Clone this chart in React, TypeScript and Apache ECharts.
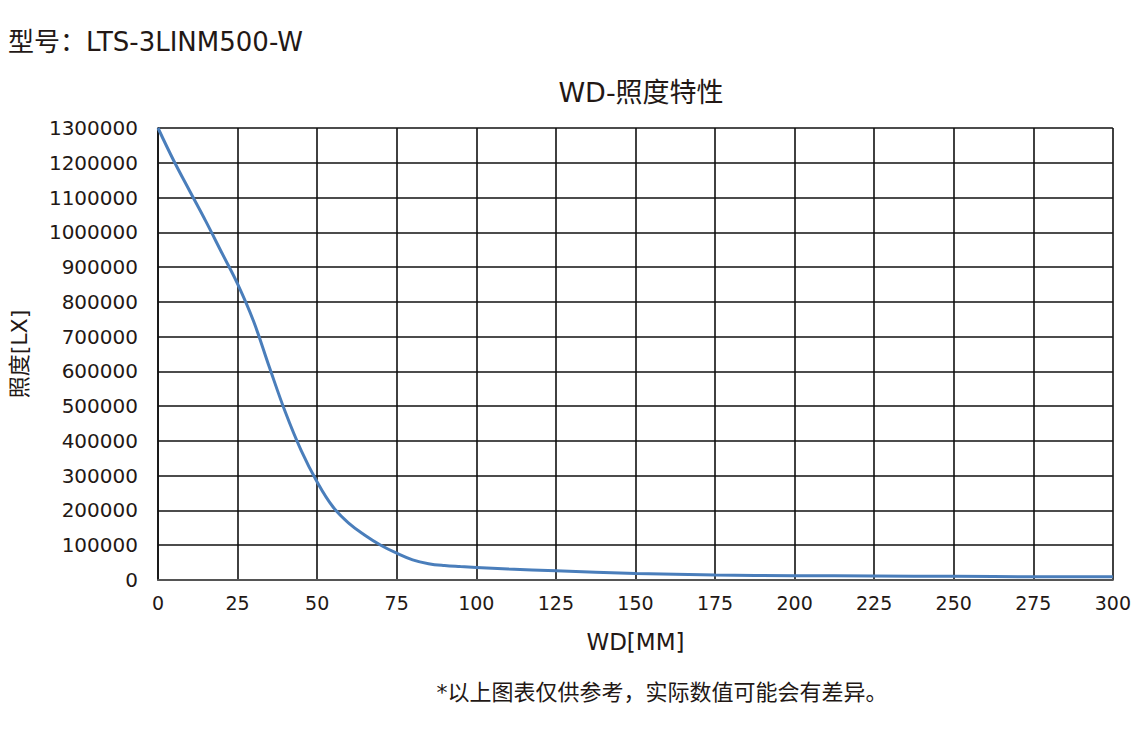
import React, { useEffect, useRef } from "react";
import * as echarts from "echarts";

const wd = [0, 5, 10, 15, 20, 25, 30, 35, 40, 45, 50, 55, 60, 65, 70, 75, 80, 85, 90, 95, 100, 110, 125, 150, 175, 200, 225, 250, 275, 300];
const lux = [1300000, 1205000, 1118000, 1032000, 942000, 852000, 745000, 612000, 483000, 372000, 282000, 210000, 163000, 129000, 100000, 77000, 58000, 47000, 41500, 38500, 36000, 31500, 26500, 19000, 14500, 12500, 11500, 10500, 9500, 9000];

const modelText = "型号：LTS-3LINM500-W";
const chartTitle = "WD-照度特性";
const xName = "WD[MM]";
const yName = "照度[LX]";
const note = "*以上图表仅供参考，实际数值可能会有差异。";

const FONT = '"DejaVu Sans", "Noto Sans CJK SC", sans-serif';
const INK = "#231815";

export default function App() {
  const ref = useRef<HTMLDivElement>(null);
  useEffect(() => {
    if (!ref.current) return;
    const chart = echarts.init(ref.current, null, { renderer: "svg" });
    chart.setOption({
      animation: false,
      backgroundColor: "#fff",
      textStyle: { fontFamily: FONT },
      title: [
        { text: modelText, left: 3, top: 24, textStyle: { fontSize: 26, fontWeight: "normal", color: INK, fontFamily: FONT } },
      ],
      graphic: [
        { type: "text", x: 641, y: 92, style: { text: chartTitle, fontSize: 27, fill: INK, fontFamily: FONT, align: "center", verticalAlign: "middle" } },
        { type: "text", x: 662, y: 692, style: { text: note, fontSize: 22, fill: INK, fontFamily: FONT, align: "center", verticalAlign: "middle" } },
      ],
      grid: { left: 158, right: 18, top: 128, bottom: 154, show: false },
      xAxis: {
        type: "value",
        min: 0,
        max: 300,
        interval: 25,
        name: xName,
        nameLocation: "middle",
        nameGap: 50,
        nameTextStyle: { fontSize: 23, color: INK, fontFamily: FONT },
        axisLine: { show: true, lineStyle: { color: "#555", width: 2 } },
        axisTick: { show: false },
        axisLabel: { fontSize: 19, color: INK, margin: 13, fontFamily: FONT },
        splitLine: { show: true, lineStyle: { color: "#111", width: 1.6 } },
      },
      yAxis: {
        type: "value",
        min: 0,
        max: 1300000,
        interval: 100000,
        name: yName,
        nameLocation: "middle",
        nameGap: 128,
        nameRotate: 90,
        nameTextStyle: { fontSize: 22, color: INK, fontFamily: FONT },
        axisLine: { show: true, lineStyle: { color: "#111", width: 1.6 } },
        axisTick: { show: false },
        axisLabel: { fontSize: 20, color: INK, margin: 20, fontFamily: FONT, formatter: (v: number) => String(v) },
        splitLine: { show: true, lineStyle: { color: "#111", width: 1.6 } },
      },
      series: [
        {
          type: "line",
          data: wd.map((x, i) => [x, lux[i]]),
          smooth: 0.4,
          showSymbol: false,
          lineStyle: { color: "#4a7ebb", width: 3 },
        },
      ],
    });
    return () => chart.dispose();
  }, []);
  return <div ref={ref} style={{ position: "fixed", left: 0, top: 0, width: 1134, height: 734 }} />;
}
